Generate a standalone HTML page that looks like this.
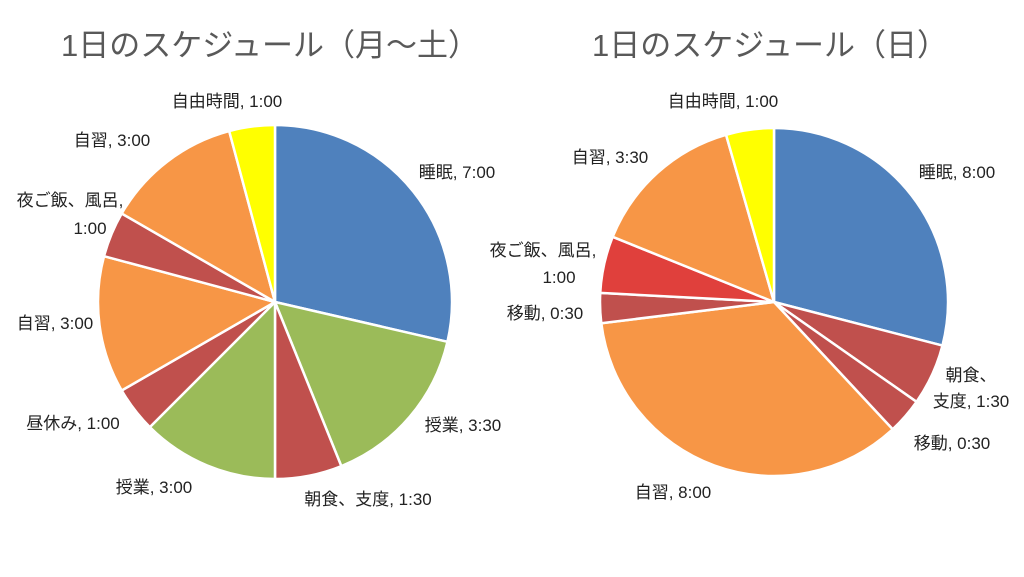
<!DOCTYPE html>
<html><head><meta charset="utf-8">
<style>
html,body{margin:0;padding:0;background:#fff;}
body{width:1024px;height:572px;overflow:hidden;}
svg text{font-family:"Liberation Sans","Noto Sans CJK JP",sans-serif;}
</style></head>
<body>
<svg id="s" width="1024" height="572" viewBox="0 0 1024 572" xmlns="http://www.w3.org/2000/svg">
<rect width="1024" height="572" fill="#fff"/>
<text x="270" y="56" font-size="31" fill="#595959" text-anchor="middle">1日のスケジュール（月～土）</text>
<text x="770" y="56" font-size="31" fill="#595959" text-anchor="middle">1日のスケジュール（日）</text>
<g id="p1"></g><g id="p2"></g>
<g font-size="17" fill="#222" text-anchor="middle">
<text x="227" y="107">自由時間, 1:00</text>
<text x="112" y="146">自習, 3:00</text>
<text x="70" y="206">夜ご飯、風呂,</text>
<text x="90" y="234">1:00</text>
<text x="55" y="329">自習, 3:00</text>
<text x="73" y="429">昼休み, 1:00</text>
<text x="154" y="493">授業, 3:00</text>
<text x="368" y="505">朝食、支度, 1:30</text>
<text x="463" y="431">授業, 3:30</text>
<text x="457" y="178">睡眠, 7:00</text>
<text x="723" y="107">自由時間, 1:00</text>
<text x="610" y="163">自習, 3:30</text>
<text x="543" y="256">夜ご飯、風呂,</text>
<text x="559" y="283">1:00</text>
<text x="545" y="319">移動, 0:30</text>
<text x="673" y="498">自習, 8:00</text>
<text x="952" y="449">移動, 0:30</text>
<text x="971" y="381">朝食、</text>
<text x="971" y="407">支度, 1:30</text>
<text x="957" y="178">睡眠, 8:00</text>
</g>
</svg>
<script>
function pie(id,cx,cy,r,data){
  var g=document.getElementById(id),h='',prev=0;
  data.forEach(function(d){
    var a=prev*Math.PI/180,a1=d[0]*Math.PI/180;
    var x0=cx+r*Math.sin(a),y0=cy-r*Math.cos(a),x1=cx+r*Math.sin(a1),y1=cy-r*Math.cos(a1);
    var large=(d[0]-prev)>180?1:0;
    h+='<path d="M'+cx+','+cy+' L'+x0.toFixed(2)+','+y0.toFixed(2)+' A'+r+','+r+' 0 '+large+' 1 '+x1.toFixed(2)+','+y1.toFixed(2)+' Z" fill="'+d[1]+'" stroke="#fff" stroke-width="2.5" stroke-linejoin="round"/>';
    prev=d[0];
  });
  g.innerHTML=h;
}
var B='#4f81bd',G='#9bbb59',R='#c0504d',O='#f79646',Y='#ffff00',RR='#e0403c';
pie('p1',275,302,177,[[103,B],[158,G],[180,R],[225,G],[240,R],[285,O],[300,R],[345,O],[360,Y]]);
pie('p2',774,302,174,[[104.5,B],[125,R],[137,R],[263,O],[273,R],[292,RR],[344,O],[360,Y]]);
</script>
</body></html>
